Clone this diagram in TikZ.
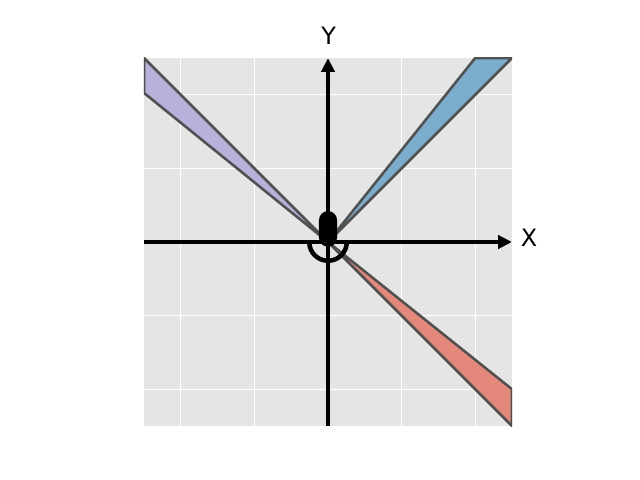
\documentclass[tikz,border=0pt]{standalone}
\usepackage{fontspec}
\setmainfont{DejaVu Sans}
\usepackage{xcolor}
\definecolor{panel}{HTML}{E5E5E5}
\definecolor{wedgeblue}{RGB}{123,174,205}
\definecolor{wedgepurple}{RGB}{183,177,219}
\definecolor{wedgered}{RGB}{227,136,122}
\definecolor{edge}{RGB}{80,80,80}
\usepackage{tikz}
\usetikzlibrary{arrows.meta, calc}

\begin{document}
\begin{tikzpicture}[x=0.92cm, y=0.92cm, >={Triangle[length=0.35cm, width=0.33cm]}]

  \useasboundingbox (-8.913,-6.467) rectangle (8.478,6.576);

  \fill[panel] (-5,-5) rectangle (5,5);
  \foreach \g in {-4,-2,0,2,4} {
    \draw[white, line width=0.8pt] (\g,-5) -- (\g,5);
    \draw[white, line width=0.8pt] (-5,\g) -- (5,\g);
  }

  \begin{scope}
    \clip (-5,-5) rectangle (5,5);
    \filldraw[fill=wedgepurple, draw=edge, line width=1.8pt, line join=round]
      (0,0) -- (-5,5) -- (-5,4.05) -- cycle;
    \filldraw[fill=wedgeblue, draw=edge, line width=1.8pt, line join=round]
      (0,0) -- (4,5) -- (5,5) -- cycle;
    \filldraw[fill=wedgered, draw=edge, line width=1.8pt, line join=round]
      (0,0) -- (5,-4) -- (5,-5) -- cycle;
  \end{scope}

  \coordinate (xmin) at (-5,0);
  \coordinate (xmax) at (5,0);
  \coordinate (ymin) at (0,-5);
  \coordinate (ymax) at (0,5);

  \draw[->, line width=2.5pt] (xmin) -- (xmax);
  \draw[->, line width=2.5pt] (ymin) -- (ymax);

  \node[font=\fontsize{17}{20}\selectfont, inner sep=0pt] (xlabel) at (5.46,0.125) {X};
  \node[font=\fontsize{17}{20}\selectfont, inner sep=0pt] (ylabel) at (0.02,5.61) {Y};

  \fill[black, rounded corners=0.225cm] (-0.245,-0.13) rectangle (0.245,0.84);
  \draw[line width=3.2pt] (-0.51,0) arc[start angle=180, end angle=360, radius=0.51];
  \draw[line width=3.4pt] (0,-0.51) -- (0,-0.72);

\end{tikzpicture}
\end{document}
